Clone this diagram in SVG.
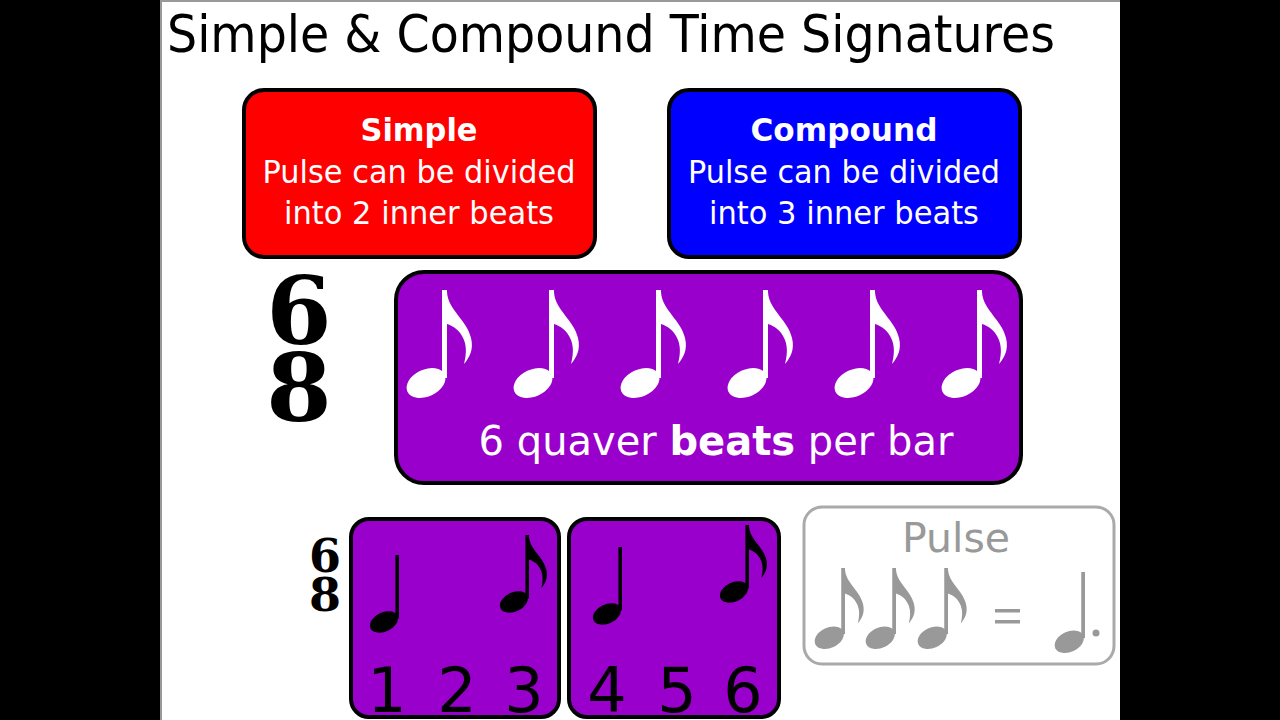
<svg xmlns="http://www.w3.org/2000/svg" xmlns:xlink="http://www.w3.org/1999/xlink" width="1280" height="720" viewBox="0 0 1280 720">
<style>
.sans{font-family:"DejaVu Sans","Liberation Sans",sans-serif}
.serif{font-family:"DejaVu Serif","Liberation Serif",serif;font-weight:bold}
.box{stroke:#000;stroke-width:4}
.wt{fill:#fff;text-anchor:middle}
.num{fill:#000;text-anchor:middle;font-size:62px}
</style>
<defs>
<g id="eighth">
<rect x="-5" y="0" width="5" height="88"/>
<ellipse cx="-21" cy="93" rx="20.5" ry="13.5" transform="rotate(-25 -21 93)"/>
<path d="M0,2 C1,20 20,30 24,48 C27,60 22,68 17,74 C19,66 20,58 17,50 C13,40 6,36 0,34 Z"/>
</g>
<g id="quarter">
<rect x="-5" y="0" width="5" height="88"/>
<ellipse cx="-21" cy="93" rx="20.5" ry="13.5" transform="rotate(-25 -21 93)"/>
</g>
</defs>
<rect x="0" y="0" width="1280" height="720" fill="#000"/>
<rect x="160" y="0" width="960" height="720" fill="#fff"/>
<line x1="160" y1="1" x2="1120" y2="1" stroke="#999" stroke-width="2"/>
<line x1="161" y1="0" x2="161" y2="720" stroke="#999" stroke-width="2"/>

<g id="title">
<text class="sans" x="167" y="52" font-size="52" textLength="888" lengthAdjust="spacingAndGlyphs" fill="#000">Simple &amp; Compound Time Signatures</text>
</g>

<g id="simple">
<rect class="box" x="244" y="90" width="351" height="167" rx="20" fill="#ff0000"/>
<text class="sans wt" x="419" y="141" font-size="32" font-weight="bold" textLength="117" lengthAdjust="spacingAndGlyphs">Simple</text>
<text class="sans wt" x="419" y="183" font-size="32" textLength="313" lengthAdjust="spacingAndGlyphs">Pulse can be divided</text>
<text class="sans wt" x="419" y="224" font-size="32" textLength="270" lengthAdjust="spacingAndGlyphs">into 2 inner beats</text>
</g>

<g id="compound">
<rect class="box" x="669" y="90" width="351" height="167" rx="20" fill="#0000ff"/>
<text class="sans wt" x="844" y="141" font-size="32" font-weight="bold" textLength="187" lengthAdjust="spacingAndGlyphs">Compound</text>
<text class="sans wt" x="844" y="183" font-size="32" textLength="312" lengthAdjust="spacingAndGlyphs">Pulse can be divided</text>
<text class="sans wt" x="844" y="224" font-size="32" textLength="270" lengthAdjust="spacingAndGlyphs">into 3 inner beats</text>
</g>

<g id="timesig-large">
<text class="serif" x="299" y="344" font-size="94" text-anchor="middle" fill="#000">6</text>
<text class="serif" x="299" y="421" font-size="94" text-anchor="middle" fill="#000">8</text>
</g>

<g id="quavers">
<rect class="box" x="396" y="272" width="625" height="211" rx="28" fill="#9900cc"/>
<g fill="#fff">
<use xlink:href="#eighth" transform="translate(447,290)"/>
<use xlink:href="#eighth" transform="translate(554,290)"/>
<use xlink:href="#eighth" transform="translate(661,290)"/>
<use xlink:href="#eighth" transform="translate(768,290)"/>
<use xlink:href="#eighth" transform="translate(875,290)"/>
<use xlink:href="#eighth" transform="translate(982,290)"/>
</g>
<text class="sans wt" x="716" y="455" font-size="40">6 quaver <tspan font-weight="bold">beats</tspan> per bar</text>
</g>

<g id="timesig-small">
<text class="serif" x="325" y="572" font-size="46" text-anchor="middle" fill="#000">6</text>
<text class="serif" x="325" y="611" font-size="46" text-anchor="middle" fill="#000">8</text>
</g>

<g id="group-1">
<rect class="box" x="351" y="519" width="208" height="198" rx="18" fill="#9900cc"/>
<g fill="#000">
<use xlink:href="#quarter" transform="translate(399,555) scale(0.72)"/>
<use xlink:href="#eighth" transform="translate(529,535) scale(0.72)"/>
</g>
<text class="sans num" x="387" y="712">1</text>
<text class="sans num" x="457" y="712">2</text>
<text class="sans num" x="524" y="712">3</text>
</g>

<g id="group-2">
<rect class="box" x="569" y="519" width="210" height="198" rx="18" fill="#9900cc"/>
<g fill="#000">
<use xlink:href="#quarter" transform="translate(622,547) scale(0.72)"/>
<use xlink:href="#eighth" transform="translate(749,525) scale(0.72)"/>
</g>
<text class="sans num" x="607" y="712">4</text>
<text class="sans num" x="677" y="712">5</text>
<text class="sans num" x="743" y="712">6</text>
</g>

<g id="pulse">
<rect x="804" y="507" width="310" height="157" rx="18" fill="#fff" stroke="#aaaaaa" stroke-width="3"/>
<text class="sans" x="956" y="552" font-size="41" text-anchor="middle" fill="#999">Pulse</text>
<g fill="#999">
<use xlink:href="#eighth" transform="translate(845,568) scale(0.75)"/>
<use xlink:href="#eighth" transform="translate(896,568) scale(0.75)"/>
<use xlink:href="#eighth" transform="translate(948,568) scale(0.75)"/>
<rect x="995" y="609" width="25" height="3.5"/>
<rect x="995" y="620" width="25" height="3.5"/>
<use xlink:href="#quarter" transform="translate(1085,572) scale(0.75)"/>
<circle cx="1096" cy="633" r="3.5"/>
</g>
</g>
</svg>
